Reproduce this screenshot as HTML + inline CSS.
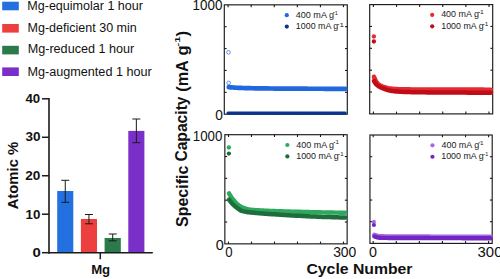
<!DOCTYPE html><html><head><meta charset="utf-8"><style>html,body{margin:0;padding:0;background:#fff;width:500px;height:279px;overflow:hidden}svg{display:block}text{font-family:"Liberation Sans",sans-serif}</style></head><body>
<svg width="500" height="279" viewBox="0 0 500 279">
<rect x="2.2" y="1.7" width="16.6" height="8.6" fill="#2370e0"/>
<rect x="2.2" y="24.0" width="16.6" height="8.6" fill="#ee3f3f"/>
<rect x="2.2" y="45.8" width="16.6" height="8.6" fill="#2a7a4a"/>
<rect x="2.2" y="67.4" width="16.6" height="8.6" fill="#7a30c8"/>
<line x1="49.0" y1="98.0" x2="49.0" y2="253.5" stroke="#1a1a1a" stroke-width="1.6"/>
<line x1="48.2" y1="252.7" x2="152.8" y2="252.7" stroke="#1a1a1a" stroke-width="1.6"/>
<line x1="42" y1="252.70" x2="49.0" y2="252.70" stroke="#1a1a1a" stroke-width="1.5"/>
<line x1="42" y1="214.22" x2="49.0" y2="214.22" stroke="#1a1a1a" stroke-width="1.5"/>
<line x1="42" y1="175.75" x2="49.0" y2="175.75" stroke="#1a1a1a" stroke-width="1.5"/>
<line x1="42" y1="137.28" x2="49.0" y2="137.28" stroke="#1a1a1a" stroke-width="1.5"/>
<line x1="42" y1="98.80" x2="49.0" y2="98.80" stroke="#1a1a1a" stroke-width="1.5"/>
<line x1="100.3" y1="252.7" x2="100.3" y2="259.2" stroke="#1a1a1a" stroke-width="1.5"/>
<rect x="57.2" y="191.0" width="16.10" height="61.00" fill="#2370e0"/>
<line x1="65.25" y1="180.3" x2="65.25" y2="202.3" stroke="#1a1a1a" stroke-width="1.0"/>
<line x1="61.25" y1="180.3" x2="69.25" y2="180.3" stroke="#1a1a1a" stroke-width="1.0"/>
<line x1="61.25" y1="202.3" x2="69.25" y2="202.3" stroke="#1a1a1a" stroke-width="1.0"/>
<rect x="80.9" y="219.0" width="16.10" height="33.00" fill="#ee3f3f"/>
<line x1="88.95" y1="214.5" x2="88.95" y2="223.8" stroke="#1a1a1a" stroke-width="1.0"/>
<line x1="84.95" y1="214.5" x2="92.95" y2="214.5" stroke="#1a1a1a" stroke-width="1.0"/>
<line x1="84.95" y1="223.8" x2="92.95" y2="223.8" stroke="#1a1a1a" stroke-width="1.0"/>
<rect x="104.6" y="238.0" width="16.20" height="14.00" fill="#2a7a4a"/>
<line x1="112.70" y1="234.0" x2="112.70" y2="240.8" stroke="#1a1a1a" stroke-width="1.0"/>
<line x1="108.70" y1="234.0" x2="116.70" y2="234.0" stroke="#1a1a1a" stroke-width="1.0"/>
<line x1="108.70" y1="240.8" x2="116.70" y2="240.8" stroke="#1a1a1a" stroke-width="1.0"/>
<rect x="128.3" y="130.9" width="16.10" height="121.10" fill="#7a30c8"/>
<line x1="136.35" y1="119.0" x2="136.35" y2="142.7" stroke="#1a1a1a" stroke-width="1.0"/>
<line x1="132.35" y1="119.0" x2="140.35" y2="119.0" stroke="#1a1a1a" stroke-width="1.0"/>
<line x1="132.35" y1="142.7" x2="140.35" y2="142.7" stroke="#1a1a1a" stroke-width="1.0"/>
<rect x="224.3" y="4.85" width="123.00" height="109.35" fill="none" stroke="#1a1a1a" stroke-width="1.15"/>
<line x1="228.10" y1="4.85" x2="228.10" y2="7.1499999999999995" stroke="#1a1a1a" stroke-width="1.1"/>
<line x1="228.10" y1="114.2" x2="228.10" y2="111.9" stroke="#1a1a1a" stroke-width="1.1"/>
<line x1="251.18" y1="4.85" x2="251.18" y2="7.1499999999999995" stroke="#1a1a1a" stroke-width="1.1"/>
<line x1="251.18" y1="114.2" x2="251.18" y2="111.9" stroke="#1a1a1a" stroke-width="1.1"/>
<line x1="274.26" y1="4.85" x2="274.26" y2="7.1499999999999995" stroke="#1a1a1a" stroke-width="1.1"/>
<line x1="274.26" y1="114.2" x2="274.26" y2="111.9" stroke="#1a1a1a" stroke-width="1.1"/>
<line x1="297.34" y1="4.85" x2="297.34" y2="7.1499999999999995" stroke="#1a1a1a" stroke-width="1.1"/>
<line x1="297.34" y1="114.2" x2="297.34" y2="111.9" stroke="#1a1a1a" stroke-width="1.1"/>
<line x1="320.42" y1="4.85" x2="320.42" y2="7.1499999999999995" stroke="#1a1a1a" stroke-width="1.1"/>
<line x1="320.42" y1="114.2" x2="320.42" y2="111.9" stroke="#1a1a1a" stroke-width="1.1"/>
<line x1="343.50" y1="4.85" x2="343.50" y2="7.1499999999999995" stroke="#1a1a1a" stroke-width="1.1"/>
<line x1="343.50" y1="114.2" x2="343.50" y2="111.9" stroke="#1a1a1a" stroke-width="1.1"/>
<line x1="224.3" y1="26.72" x2="226.60000000000002" y2="26.72" stroke="#1a1a1a" stroke-width="1.1"/>
<line x1="347.3" y1="26.72" x2="345.0" y2="26.72" stroke="#1a1a1a" stroke-width="1.1"/>
<line x1="224.3" y1="48.59" x2="226.60000000000002" y2="48.59" stroke="#1a1a1a" stroke-width="1.1"/>
<line x1="347.3" y1="48.59" x2="345.0" y2="48.59" stroke="#1a1a1a" stroke-width="1.1"/>
<line x1="224.3" y1="70.46" x2="226.60000000000002" y2="70.46" stroke="#1a1a1a" stroke-width="1.1"/>
<line x1="347.3" y1="70.46" x2="345.0" y2="70.46" stroke="#1a1a1a" stroke-width="1.1"/>
<line x1="224.3" y1="92.33" x2="226.60000000000002" y2="92.33" stroke="#1a1a1a" stroke-width="1.1"/>
<line x1="347.3" y1="92.33" x2="345.0" y2="92.33" stroke="#1a1a1a" stroke-width="1.1"/>
<rect x="369.7" y="4.6" width="123.00" height="109.30" fill="none" stroke="#1a1a1a" stroke-width="1.15"/>
<line x1="373.40" y1="4.6" x2="373.40" y2="6.8999999999999995" stroke="#1a1a1a" stroke-width="1.1"/>
<line x1="373.40" y1="113.9" x2="373.40" y2="111.60000000000001" stroke="#1a1a1a" stroke-width="1.1"/>
<line x1="396.52" y1="4.6" x2="396.52" y2="6.8999999999999995" stroke="#1a1a1a" stroke-width="1.1"/>
<line x1="396.52" y1="113.9" x2="396.52" y2="111.60000000000001" stroke="#1a1a1a" stroke-width="1.1"/>
<line x1="419.64" y1="4.6" x2="419.64" y2="6.8999999999999995" stroke="#1a1a1a" stroke-width="1.1"/>
<line x1="419.64" y1="113.9" x2="419.64" y2="111.60000000000001" stroke="#1a1a1a" stroke-width="1.1"/>
<line x1="442.76" y1="4.6" x2="442.76" y2="6.8999999999999995" stroke="#1a1a1a" stroke-width="1.1"/>
<line x1="442.76" y1="113.9" x2="442.76" y2="111.60000000000001" stroke="#1a1a1a" stroke-width="1.1"/>
<line x1="465.88" y1="4.6" x2="465.88" y2="6.8999999999999995" stroke="#1a1a1a" stroke-width="1.1"/>
<line x1="465.88" y1="113.9" x2="465.88" y2="111.60000000000001" stroke="#1a1a1a" stroke-width="1.1"/>
<line x1="489.00" y1="4.6" x2="489.00" y2="6.8999999999999995" stroke="#1a1a1a" stroke-width="1.1"/>
<line x1="489.00" y1="113.9" x2="489.00" y2="111.60000000000001" stroke="#1a1a1a" stroke-width="1.1"/>
<line x1="369.7" y1="26.46" x2="372.0" y2="26.46" stroke="#1a1a1a" stroke-width="1.1"/>
<line x1="492.7" y1="26.46" x2="490.4" y2="26.46" stroke="#1a1a1a" stroke-width="1.1"/>
<line x1="369.7" y1="48.32" x2="372.0" y2="48.32" stroke="#1a1a1a" stroke-width="1.1"/>
<line x1="492.7" y1="48.32" x2="490.4" y2="48.32" stroke="#1a1a1a" stroke-width="1.1"/>
<line x1="369.7" y1="70.18" x2="372.0" y2="70.18" stroke="#1a1a1a" stroke-width="1.1"/>
<line x1="492.7" y1="70.18" x2="490.4" y2="70.18" stroke="#1a1a1a" stroke-width="1.1"/>
<line x1="369.7" y1="92.04" x2="372.0" y2="92.04" stroke="#1a1a1a" stroke-width="1.1"/>
<line x1="492.7" y1="92.04" x2="490.4" y2="92.04" stroke="#1a1a1a" stroke-width="1.1"/>
<rect x="224.85" y="134.7" width="122.30" height="109.15" fill="none" stroke="#1a1a1a" stroke-width="1.15"/>
<line x1="228.50" y1="134.7" x2="228.50" y2="137.0" stroke="#1a1a1a" stroke-width="1.1"/>
<line x1="228.50" y1="243.85" x2="228.50" y2="241.54999999999998" stroke="#1a1a1a" stroke-width="1.1"/>
<line x1="251.50" y1="134.7" x2="251.50" y2="137.0" stroke="#1a1a1a" stroke-width="1.1"/>
<line x1="251.50" y1="243.85" x2="251.50" y2="241.54999999999998" stroke="#1a1a1a" stroke-width="1.1"/>
<line x1="274.50" y1="134.7" x2="274.50" y2="137.0" stroke="#1a1a1a" stroke-width="1.1"/>
<line x1="274.50" y1="243.85" x2="274.50" y2="241.54999999999998" stroke="#1a1a1a" stroke-width="1.1"/>
<line x1="297.50" y1="134.7" x2="297.50" y2="137.0" stroke="#1a1a1a" stroke-width="1.1"/>
<line x1="297.50" y1="243.85" x2="297.50" y2="241.54999999999998" stroke="#1a1a1a" stroke-width="1.1"/>
<line x1="320.50" y1="134.7" x2="320.50" y2="137.0" stroke="#1a1a1a" stroke-width="1.1"/>
<line x1="320.50" y1="243.85" x2="320.50" y2="241.54999999999998" stroke="#1a1a1a" stroke-width="1.1"/>
<line x1="343.50" y1="134.7" x2="343.50" y2="137.0" stroke="#1a1a1a" stroke-width="1.1"/>
<line x1="343.50" y1="243.85" x2="343.50" y2="241.54999999999998" stroke="#1a1a1a" stroke-width="1.1"/>
<line x1="224.85" y1="156.53" x2="227.15" y2="156.53" stroke="#1a1a1a" stroke-width="1.1"/>
<line x1="347.15" y1="156.53" x2="344.84999999999997" y2="156.53" stroke="#1a1a1a" stroke-width="1.1"/>
<line x1="224.85" y1="178.36" x2="227.15" y2="178.36" stroke="#1a1a1a" stroke-width="1.1"/>
<line x1="347.15" y1="178.36" x2="344.84999999999997" y2="178.36" stroke="#1a1a1a" stroke-width="1.1"/>
<line x1="224.85" y1="200.19" x2="227.15" y2="200.19" stroke="#1a1a1a" stroke-width="1.1"/>
<line x1="347.15" y1="200.19" x2="344.84999999999997" y2="200.19" stroke="#1a1a1a" stroke-width="1.1"/>
<line x1="224.85" y1="222.02" x2="227.15" y2="222.02" stroke="#1a1a1a" stroke-width="1.1"/>
<line x1="347.15" y1="222.02" x2="344.84999999999997" y2="222.02" stroke="#1a1a1a" stroke-width="1.1"/>
<rect x="369.95" y="135.0" width="122.25" height="108.40" fill="none" stroke="#1a1a1a" stroke-width="1.15"/>
<line x1="373.20" y1="135.0" x2="373.20" y2="137.3" stroke="#1a1a1a" stroke-width="1.1"/>
<line x1="373.20" y1="243.4" x2="373.20" y2="241.1" stroke="#1a1a1a" stroke-width="1.1"/>
<line x1="396.28" y1="135.0" x2="396.28" y2="137.3" stroke="#1a1a1a" stroke-width="1.1"/>
<line x1="396.28" y1="243.4" x2="396.28" y2="241.1" stroke="#1a1a1a" stroke-width="1.1"/>
<line x1="419.36" y1="135.0" x2="419.36" y2="137.3" stroke="#1a1a1a" stroke-width="1.1"/>
<line x1="419.36" y1="243.4" x2="419.36" y2="241.1" stroke="#1a1a1a" stroke-width="1.1"/>
<line x1="442.44" y1="135.0" x2="442.44" y2="137.3" stroke="#1a1a1a" stroke-width="1.1"/>
<line x1="442.44" y1="243.4" x2="442.44" y2="241.1" stroke="#1a1a1a" stroke-width="1.1"/>
<line x1="465.52" y1="135.0" x2="465.52" y2="137.3" stroke="#1a1a1a" stroke-width="1.1"/>
<line x1="465.52" y1="243.4" x2="465.52" y2="241.1" stroke="#1a1a1a" stroke-width="1.1"/>
<line x1="488.60" y1="135.0" x2="488.60" y2="137.3" stroke="#1a1a1a" stroke-width="1.1"/>
<line x1="488.60" y1="243.4" x2="488.60" y2="241.1" stroke="#1a1a1a" stroke-width="1.1"/>
<line x1="369.95" y1="156.68" x2="372.25" y2="156.68" stroke="#1a1a1a" stroke-width="1.1"/>
<line x1="492.2" y1="156.68" x2="489.9" y2="156.68" stroke="#1a1a1a" stroke-width="1.1"/>
<line x1="369.95" y1="178.36" x2="372.25" y2="178.36" stroke="#1a1a1a" stroke-width="1.1"/>
<line x1="492.2" y1="178.36" x2="489.9" y2="178.36" stroke="#1a1a1a" stroke-width="1.1"/>
<line x1="369.95" y1="200.04" x2="372.25" y2="200.04" stroke="#1a1a1a" stroke-width="1.1"/>
<line x1="492.2" y1="200.04" x2="489.9" y2="200.04" stroke="#1a1a1a" stroke-width="1.1"/>
<line x1="369.95" y1="221.72" x2="372.25" y2="221.72" stroke="#1a1a1a" stroke-width="1.1"/>
<line x1="492.2" y1="221.72" x2="489.9" y2="221.72" stroke="#1a1a1a" stroke-width="1.1"/>
<circle cx="228.5" cy="52.3" r="1.8" fill="none" stroke="#2068dc" stroke-width="0.7"/>
<circle cx="228.7" cy="82.9" r="1.8" fill="none" stroke="#2068dc" stroke-width="0.7"/>
<path d="M228.80,87.20 L228.84,87.20 L228.96,87.21 L229.12,87.22 L229.34,87.24 L229.61,87.26 L229.93,87.29 L230.29,87.31 L230.69,87.34 L231.14,87.38 L231.63,87.41 L232.16,87.45 L232.73,87.49 L233.33,87.53 L233.98,87.58 L234.67,87.62 L235.39,87.67 L236.15,87.72 L236.94,87.76 L237.78,87.80 L238.64,87.85 L239.55,87.88 L240.49,87.92 L241.46,87.95 L242.47,87.98 L243.51,88.02 L244.59,88.05 L245.70,88.08 L246.84,88.11 L248.02,88.14 L249.22,88.17 L250.47,88.20 L251.74,88.23 L253.05,88.26 L254.39,88.28 L255.76,88.31 L257.16,88.33 L258.59,88.35 L260.06,88.37 L261.55,88.39 L263.08,88.41 L264.64,88.43 L266.23,88.45 L267.85,88.47 L269.50,88.49 L271.18,88.50 L272.89,88.52 L274.63,88.54 L276.40,88.55 L278.20,88.57 L280.03,88.58 L281.88,88.60 L283.77,88.61 L285.69,88.63 L287.64,88.64 L289.61,88.65 L291.62,88.66 L293.65,88.67 L295.71,88.68 L297.80,88.69 L299.92,88.70 L302.07,88.71 L304.25,88.71 L306.45,88.72 L308.69,88.73 L310.95,88.74 L313.23,88.74 L315.55,88.75 L317.90,88.76 L320.27,88.76 L322.67,88.77 L325.10,88.78 L327.55,88.78 L330.03,88.79 L332.54,88.79 L335.08,88.79 L337.64,88.80 L340.24,88.80 L342.85,88.80 L345.50,88.80" fill="none" stroke="#2068dc" stroke-width="4.7" stroke-linecap="round" stroke-linejoin="round"/>
<path d="M228.00,113.10 L345.20,113.10" fill="none" stroke="#0b348e" stroke-width="3.1" stroke-linecap="round" stroke-linejoin="round"/>
<rect x="333.10" y="12.20" width="1.6" height="0.75" fill="#444"/>
<rect x="337.60" y="24.20" width="1.6" height="0.75" fill="#444"/>
<circle cx="286.8" cy="15.15" r="2.1" fill="#2068dc"/>
<circle cx="286.8" cy="26.6" r="2.1" fill="#0b348e"/>
<circle cx="373.9" cy="36.5" r="2.15" fill="#e42a32"/>
<circle cx="373.9" cy="41.5" r="2.15" fill="#c00c16"/>
<path d="M374.00,76.80 L374.04,76.92 L374.16,77.20 L374.32,77.63 L374.54,78.18 L374.81,78.82 L375.13,79.54 L375.49,80.29 L375.89,81.03 L376.34,81.73 L376.83,82.45 L377.36,83.16 L377.93,83.83 L378.54,84.40 L379.18,84.86 L379.87,85.27 L380.59,85.65 L381.35,86.00 L382.15,86.32 L382.98,86.62 L383.85,86.92 L384.76,87.21 L385.70,87.51 L386.67,87.79 L387.68,88.05 L388.72,88.27 L389.80,88.44 L390.91,88.59 L392.06,88.74 L393.23,88.87 L394.44,88.99 L395.69,89.09 L396.96,89.16 L398.27,89.21 L399.61,89.24 L400.98,89.27 L402.38,89.30 L403.82,89.33 L405.28,89.36 L406.78,89.38 L408.31,89.40 L409.87,89.42 L411.46,89.44 L413.08,89.45 L414.73,89.47 L416.41,89.48 L418.12,89.49 L419.87,89.50 L421.64,89.51 L423.44,89.51 L425.27,89.52 L427.13,89.53 L429.02,89.53 L430.94,89.54 L432.89,89.54 L434.86,89.55 L436.87,89.55 L438.91,89.56 L440.97,89.56 L443.06,89.56 L445.18,89.57 L447.33,89.57 L449.51,89.58 L451.72,89.58 L453.95,89.58 L456.22,89.59 L458.51,89.60 L460.83,89.60 L463.17,89.61 L465.55,89.62 L467.95,89.62 L470.38,89.63 L472.84,89.64 L475.32,89.65 L477.83,89.66 L480.37,89.66 L482.94,89.67 L485.53,89.68 L488.15,89.69 L490.80,89.70" fill="none" stroke="#e42a32" stroke-width="4.6" stroke-linecap="round" stroke-linejoin="round"/>
<path d="M374.00,81.00 L374.04,81.08 L374.16,81.28 L374.32,81.57 L374.54,81.94 L374.81,82.38 L375.13,82.87 L375.49,83.38 L375.89,83.88 L376.34,84.36 L376.83,84.82 L377.36,85.28 L377.93,85.72 L378.54,86.13 L379.18,86.53 L379.87,86.92 L380.59,87.30 L381.35,87.66 L382.15,88.02 L382.98,88.37 L383.85,88.71 L384.76,89.05 L385.70,89.39 L386.67,89.73 L387.68,90.05 L388.72,90.33 L389.80,90.56 L390.91,90.76 L392.06,90.94 L393.23,91.12 L394.44,91.28 L395.69,91.42 L396.96,91.53 L398.27,91.61 L399.61,91.69 L400.98,91.76 L402.38,91.82 L403.82,91.88 L405.28,91.94 L406.78,92.00 L408.31,92.05 L409.87,92.09 L411.46,92.14 L413.08,92.18 L414.73,92.21 L416.41,92.25 L418.12,92.27 L419.87,92.30 L421.64,92.32 L423.44,92.34 L425.27,92.36 L427.13,92.38 L429.02,92.40 L430.94,92.42 L432.89,92.44 L434.86,92.45 L436.87,92.47 L438.91,92.48 L440.97,92.50 L443.06,92.51 L445.18,92.53 L447.33,92.54 L449.51,92.55 L451.72,92.56 L453.95,92.57 L456.22,92.58 L458.51,92.59 L460.83,92.60 L463.17,92.61 L465.55,92.62 L467.95,92.63 L470.38,92.64 L472.84,92.65 L475.32,92.66 L477.83,92.67 L480.37,92.68 L482.94,92.68 L485.53,92.69 L488.15,92.70 L490.80,92.70" fill="none" stroke="#c00c16" stroke-width="4.5" stroke-linecap="round" stroke-linejoin="round"/>
<rect x="478.50" y="11.95" width="1.6" height="0.75" fill="#444"/>
<rect x="483.00" y="23.95" width="1.6" height="0.75" fill="#444"/>
<circle cx="432.2" cy="14.9" r="2.1" fill="#e42a32"/>
<circle cx="432.2" cy="26.35" r="2.1" fill="#c00c16"/>
<circle cx="228.9" cy="147.5" r="2.15" fill="#2ea85c"/>
<circle cx="228.9" cy="153.6" r="2.15" fill="#1d6e3c"/>
<path d="M229.00,193.40 L229.04,193.47 L229.16,193.66 L229.32,193.93 L229.54,194.29 L229.81,194.72 L230.12,195.21 L230.48,195.77 L230.88,196.38 L231.33,197.04 L231.81,197.73 L232.34,198.45 L232.91,199.19 L233.51,199.93 L234.16,200.70 L234.84,201.49 L235.56,202.28 L236.32,203.07 L237.11,203.84 L237.94,204.57 L238.80,205.27 L239.70,205.95 L240.64,206.57 L241.61,207.04 L242.61,207.44 L243.65,207.83 L244.72,208.20 L245.82,208.55 L246.96,208.88 L248.13,209.17 L249.34,209.42 L250.57,209.63 L251.84,209.78 L253.14,209.90 L254.48,210.02 L255.84,210.12 L257.24,210.23 L258.66,210.32 L260.12,210.41 L261.61,210.49 L263.13,210.57 L264.69,210.64 L266.27,210.71 L267.88,210.78 L269.52,210.84 L271.19,210.90 L272.90,210.96 L274.63,211.02 L276.39,211.08 L278.18,211.14 L280.01,211.20 L281.86,211.27 L283.74,211.33 L285.65,211.39 L287.58,211.46 L289.55,211.52 L291.55,211.58 L293.57,211.64 L295.63,211.70 L297.71,211.75 L299.82,211.81 L301.96,211.87 L304.12,211.92 L306.32,211.98 L308.54,212.03 L310.79,212.09 L313.07,212.14 L315.38,212.19 L317.71,212.25 L320.08,212.30 L322.47,212.36 L324.88,212.41 L327.33,212.46 L329.80,212.51 L332.30,212.56 L334.82,212.61 L337.38,212.66 L339.96,212.71 L342.57,212.75 L345.20,212.80" fill="none" stroke="#2ea85c" stroke-width="4.4" stroke-linecap="round" stroke-linejoin="round"/>
<path d="M229.00,199.60 L229.04,199.66 L229.16,199.81 L229.32,200.04 L229.54,200.33 L229.81,200.68 L230.12,201.09 L230.48,201.55 L230.88,202.05 L231.33,202.58 L231.81,203.15 L232.34,203.72 L232.91,204.31 L233.51,204.90 L234.16,205.49 L234.84,206.08 L235.56,206.68 L236.32,207.28 L237.11,207.88 L237.94,208.48 L238.80,209.13 L239.70,209.81 L240.64,210.42 L241.61,210.83 L242.61,211.11 L243.65,211.37 L244.72,211.59 L245.82,211.80 L246.96,211.98 L248.13,212.15 L249.34,212.30 L250.57,212.44 L251.84,212.58 L253.14,212.72 L254.48,212.86 L255.84,213.00 L257.24,213.13 L258.66,213.25 L260.12,213.38 L261.61,213.50 L263.13,213.61 L264.69,213.73 L266.27,213.84 L267.88,213.95 L269.52,214.05 L271.19,214.16 L272.90,214.27 L274.63,214.37 L276.39,214.48 L278.18,214.59 L280.01,214.70 L281.86,214.82 L283.74,214.93 L285.65,215.05 L287.58,215.17 L289.55,215.29 L291.55,215.40 L293.57,215.52 L295.63,215.64 L297.71,215.76 L299.82,215.87 L301.96,215.99 L304.12,216.10 L306.32,216.21 L308.54,216.32 L310.79,216.43 L313.07,216.53 L315.38,216.62 L317.71,216.72 L320.08,216.80 L322.47,216.89 L324.88,216.97 L327.33,217.05 L329.80,217.12 L332.30,217.20 L334.82,217.27 L337.38,217.33 L339.96,217.39 L342.57,217.45 L345.20,217.50" fill="none" stroke="#1d6e3c" stroke-width="4.5" stroke-linecap="round" stroke-linejoin="round"/>
<rect x="333.65" y="142.05" width="1.6" height="0.75" fill="#444"/>
<rect x="338.15" y="154.05" width="1.6" height="0.75" fill="#444"/>
<circle cx="287.35" cy="145.0" r="2.1" fill="#2ea85c"/>
<circle cx="287.35" cy="156.45" r="2.1" fill="#1d6e3c"/>
<circle cx="373.9" cy="221.9" r="2.05" fill="#a66ae0"/>
<circle cx="373.9" cy="225.0" r="2.1" fill="#7426c4"/>
<path d="M374.30,234.80 L374.34,234.81 L374.46,234.85 L374.62,234.90 L374.84,234.97 L375.11,235.05 L375.42,235.15 L375.78,235.27 L376.19,235.39 L376.63,235.53 L377.12,235.68 L377.64,235.82 L378.21,235.96 L378.82,236.08 L379.46,236.16 L380.15,236.20 L380.87,236.23 L381.62,236.25 L382.42,236.27 L383.25,236.30 L384.11,236.32 L385.01,236.34 L385.95,236.36 L386.92,236.38 L387.92,236.39 L388.96,236.41 L390.03,236.42 L391.14,236.44 L392.28,236.45 L393.45,236.46 L394.65,236.47 L395.89,236.48 L397.16,236.49 L398.46,236.49 L399.80,236.50 L401.16,236.51 L402.56,236.51 L403.99,236.52 L405.45,236.52 L406.94,236.53 L408.46,236.53 L410.02,236.54 L411.60,236.54 L413.21,236.54 L414.86,236.55 L416.53,236.55 L418.24,236.55 L419.97,236.56 L421.73,236.56 L423.53,236.56 L425.35,236.57 L427.20,236.57 L429.08,236.57 L431.00,236.58 L432.94,236.58 L434.90,236.59 L436.90,236.59 L438.93,236.60 L440.98,236.60 L443.07,236.61 L445.18,236.62 L447.32,236.62 L449.49,236.63 L451.69,236.64 L453.91,236.65 L456.16,236.65 L458.45,236.66 L460.75,236.67 L463.09,236.68 L465.45,236.69 L467.85,236.70 L470.27,236.71 L472.71,236.72 L475.19,236.73 L477.69,236.74 L480.22,236.75 L482.77,236.76 L485.35,236.78 L487.96,236.79 L490.60,236.80" fill="none" stroke="#a66ae0" stroke-width="4.4" stroke-linecap="round" stroke-linejoin="round"/>
<path d="M374.30,236.40 L374.34,236.41 L374.46,236.45 L374.62,236.50 L374.84,236.57 L375.11,236.65 L375.42,236.75 L375.78,236.87 L376.19,237.00 L376.63,237.14 L377.12,237.29 L377.64,237.43 L378.21,237.57 L378.82,237.69 L379.46,237.77 L380.15,237.80 L380.87,237.82 L381.62,237.83 L382.42,237.85 L383.25,237.86 L384.11,237.88 L385.01,237.89 L385.95,237.91 L386.92,237.92 L387.92,237.93 L388.96,237.94 L390.03,237.95 L391.14,237.96 L392.28,237.96 L393.45,237.97 L394.65,237.98 L395.89,237.98 L397.16,237.99 L398.46,237.99 L399.80,238.00 L401.16,238.00 L402.56,238.01 L403.99,238.02 L405.45,238.02 L406.94,238.03 L408.46,238.03 L410.02,238.03 L411.60,238.04 L413.21,238.04 L414.86,238.05 L416.53,238.05 L418.24,238.05 L419.97,238.06 L421.73,238.06 L423.53,238.06 L425.35,238.07 L427.20,238.07 L429.08,238.07 L431.00,238.08 L432.94,238.08 L434.90,238.09 L436.90,238.09 L438.93,238.10 L440.98,238.10 L443.07,238.11 L445.18,238.12 L447.32,238.12 L449.49,238.13 L451.69,238.14 L453.91,238.15 L456.16,238.15 L458.45,238.16 L460.75,238.17 L463.09,238.18 L465.45,238.19 L467.85,238.20 L470.27,238.21 L472.71,238.22 L475.19,238.23 L477.69,238.24 L480.22,238.25 L482.77,238.26 L485.35,238.28 L487.96,238.29 L490.60,238.30" fill="none" stroke="#7426c4" stroke-width="4.4" stroke-linecap="round" stroke-linejoin="round"/>
<rect x="478.75" y="142.35" width="1.6" height="0.75" fill="#444"/>
<rect x="483.25" y="154.35" width="1.6" height="0.75" fill="#444"/>
<circle cx="432.45" cy="145.3" r="2.1" fill="#a66ae0"/>
<circle cx="432.45" cy="156.75" r="2.1" fill="#7426c4"/>
<text x="27.312" y="9.738" font-size="12.5" font-weight="normal" fill="#111" textLength="115.642" lengthAdjust="spacingAndGlyphs">Mg-equimolar 1 hour</text>
<text x="27.552" y="32.296" font-size="12.5" font-weight="normal" fill="#111" textLength="109.245" lengthAdjust="spacingAndGlyphs">Mg-deficient 30 min</text>
<text x="27.694" y="53.424" font-size="12.5" font-weight="normal" fill="#111" textLength="106.572" lengthAdjust="spacingAndGlyphs">Mg-reduced 1 hour</text>
<text x="27.403" y="75.921" font-size="12.5" font-weight="normal" fill="#111" textLength="124.414" lengthAdjust="spacingAndGlyphs">Mg-augmented 1 hour</text>
<text x="25.497" y="102.796" font-size="13.5" font-weight="bold" fill="#111" textLength="14.742" lengthAdjust="spacingAndGlyphs">40</text>
<text x="25.425" y="141.038" font-size="13.5" font-weight="bold" fill="#111" textLength="15.079" lengthAdjust="spacingAndGlyphs">30</text>
<text x="25.232" y="179.655" font-size="13.5" font-weight="bold" fill="#111" textLength="15.151" lengthAdjust="spacingAndGlyphs">20</text>
<text x="25.545" y="218.776" font-size="13.5" font-weight="bold" fill="#111" textLength="14.876" lengthAdjust="spacingAndGlyphs">10</text>
<text x="32.425" y="256.997" font-size="13.5" font-weight="bold" fill="#111" textLength="8.283" lengthAdjust="spacingAndGlyphs">0</text>
<text x="91.143" y="274.349" font-size="12.5" font-weight="bold" fill="#111" textLength="19.012" lengthAdjust="spacingAndGlyphs">Mg</text>
<text transform="translate(17.502,209.361) rotate(-90)" font-size="15" font-weight="bold" fill="#111" textLength="67.554" lengthAdjust="spacingAndGlyphs">Atomic %</text>
<text x="192.530" y="9.712" font-size="14" font-weight="normal" fill="#111" textLength="29.837" lengthAdjust="spacingAndGlyphs">1000</text>
<text x="215.278" y="119.514" font-size="14" font-weight="normal" fill="#111" textLength="7.644" lengthAdjust="spacingAndGlyphs">0</text>
<text x="192.805" y="140.827" font-size="14" font-weight="normal" fill="#111" textLength="29.622" lengthAdjust="spacingAndGlyphs">1000</text>
<text x="215.680" y="249.648" font-size="14" font-weight="normal" fill="#111" textLength="8.060" lengthAdjust="spacingAndGlyphs">0</text>
<text x="225.269" y="257.387" font-size="14" font-weight="normal" fill="#111" textLength="7.337" lengthAdjust="spacingAndGlyphs">0</text>
<text x="333.145" y="257.447" font-size="14" font-weight="normal" fill="#111" textLength="23.200" lengthAdjust="spacingAndGlyphs">300</text>
<text x="368.925" y="257.244" font-size="14" font-weight="normal" fill="#111" textLength="7.951" lengthAdjust="spacingAndGlyphs">0</text>
<text x="477.566" y="257.450" font-size="14" font-weight="normal" fill="#111" textLength="24.882" lengthAdjust="spacingAndGlyphs">300</text>
<text x="306.486" y="273.789" font-size="15.5" font-weight="bold" fill="#111" textLength="105.915" lengthAdjust="spacingAndGlyphs">Cycle Number</text>
<text transform="translate(187.762,226.981) rotate(-90)" font-size="16.5" font-weight="bold" fill="#111" textLength="61.336" lengthAdjust="spacingAndGlyphs">Specific</text>
<text transform="translate(187.442,161.607) rotate(-90)" font-size="16.5" font-weight="bold" fill="#111" textLength="65.154" lengthAdjust="spacingAndGlyphs">Capacity</text>
<text transform="translate(187.942,91.757) rotate(-90)" font-size="16.5" font-weight="bold" fill="#111" textLength="31.587" lengthAdjust="spacingAndGlyphs">(mA</text>
<text transform="translate(187.960,55.599) rotate(-90)" font-size="16.5" font-weight="bold" fill="#111" textLength="10.064" lengthAdjust="spacingAndGlyphs">g</text>
<text transform="translate(180.260,46.536) rotate(-90)" font-size="8" font-weight="bold" fill="#111" textLength="9.981" lengthAdjust="spacingAndGlyphs">-1</text>
<text transform="translate(188.104,36.391) rotate(-90)" font-size="16.5" font-weight="bold" fill="#111" textLength="5.651" lengthAdjust="spacingAndGlyphs">)</text>
<text x="295.765" y="18.071" font-size="8.8" font-weight="normal" fill="#1a1a1a" textLength="38.207" lengthAdjust="spacingAndGlyphs">400 mA g</text>
<text x="334.671" y="14.501" font-size="5.8" font-weight="normal" fill="#1a1a1a" textLength="3.074" lengthAdjust="spacingAndGlyphs">1</text>
<text x="295.878" y="29.353" font-size="8.8" font-weight="normal" fill="#1a1a1a" textLength="42.342" lengthAdjust="spacingAndGlyphs">1000 mA g</text>
<text x="339.586" y="26.729" font-size="5.8" font-weight="normal" fill="#1a1a1a" textLength="4.472" lengthAdjust="spacingAndGlyphs">1</text>
<text x="441.145" y="17.441" font-size="8.8" font-weight="normal" fill="#1a1a1a" textLength="37.741" lengthAdjust="spacingAndGlyphs">400 mA g</text>
<text x="480.091" y="13.741" font-size="5.8" font-weight="normal" fill="#1a1a1a" textLength="3.775" lengthAdjust="spacingAndGlyphs">1</text>
<text x="441.242" y="29.486" font-size="8.8" font-weight="normal" fill="#1a1a1a" textLength="42.353" lengthAdjust="spacingAndGlyphs">1000 mA g</text>
<text x="484.804" y="25.996" font-size="5.8" font-weight="normal" fill="#1a1a1a" textLength="3.569" lengthAdjust="spacingAndGlyphs">1</text>
<text x="296.283" y="148.000" font-size="8.8" font-weight="normal" fill="#1a1a1a" textLength="37.818" lengthAdjust="spacingAndGlyphs">400 mA g</text>
<text x="335.534" y="144.160" font-size="5.8" font-weight="normal" fill="#1a1a1a" textLength="3.524" lengthAdjust="spacingAndGlyphs">1</text>
<text x="296.196" y="159.270" font-size="8.8" font-weight="normal" fill="#1a1a1a" textLength="42.487" lengthAdjust="spacingAndGlyphs">1000 mA g</text>
<text x="340.234" y="156.439" font-size="5.8" font-weight="normal" fill="#1a1a1a" textLength="3.357" lengthAdjust="spacingAndGlyphs">1</text>
<text x="441.463" y="148.169" font-size="8.8" font-weight="normal" fill="#1a1a1a" textLength="37.778" lengthAdjust="spacingAndGlyphs">400 mA g</text>
<text x="480.073" y="144.605" font-size="5.8" font-weight="normal" fill="#1a1a1a" textLength="3.579" lengthAdjust="spacingAndGlyphs">1</text>
<text x="441.251" y="159.375" font-size="8.8" font-weight="normal" fill="#1a1a1a" textLength="42.379" lengthAdjust="spacingAndGlyphs">1000 mA g</text>
<text x="485.325" y="156.156" font-size="5.8" font-weight="normal" fill="#1a1a1a" textLength="3.070" lengthAdjust="spacingAndGlyphs">1</text>
</svg></body></html>
